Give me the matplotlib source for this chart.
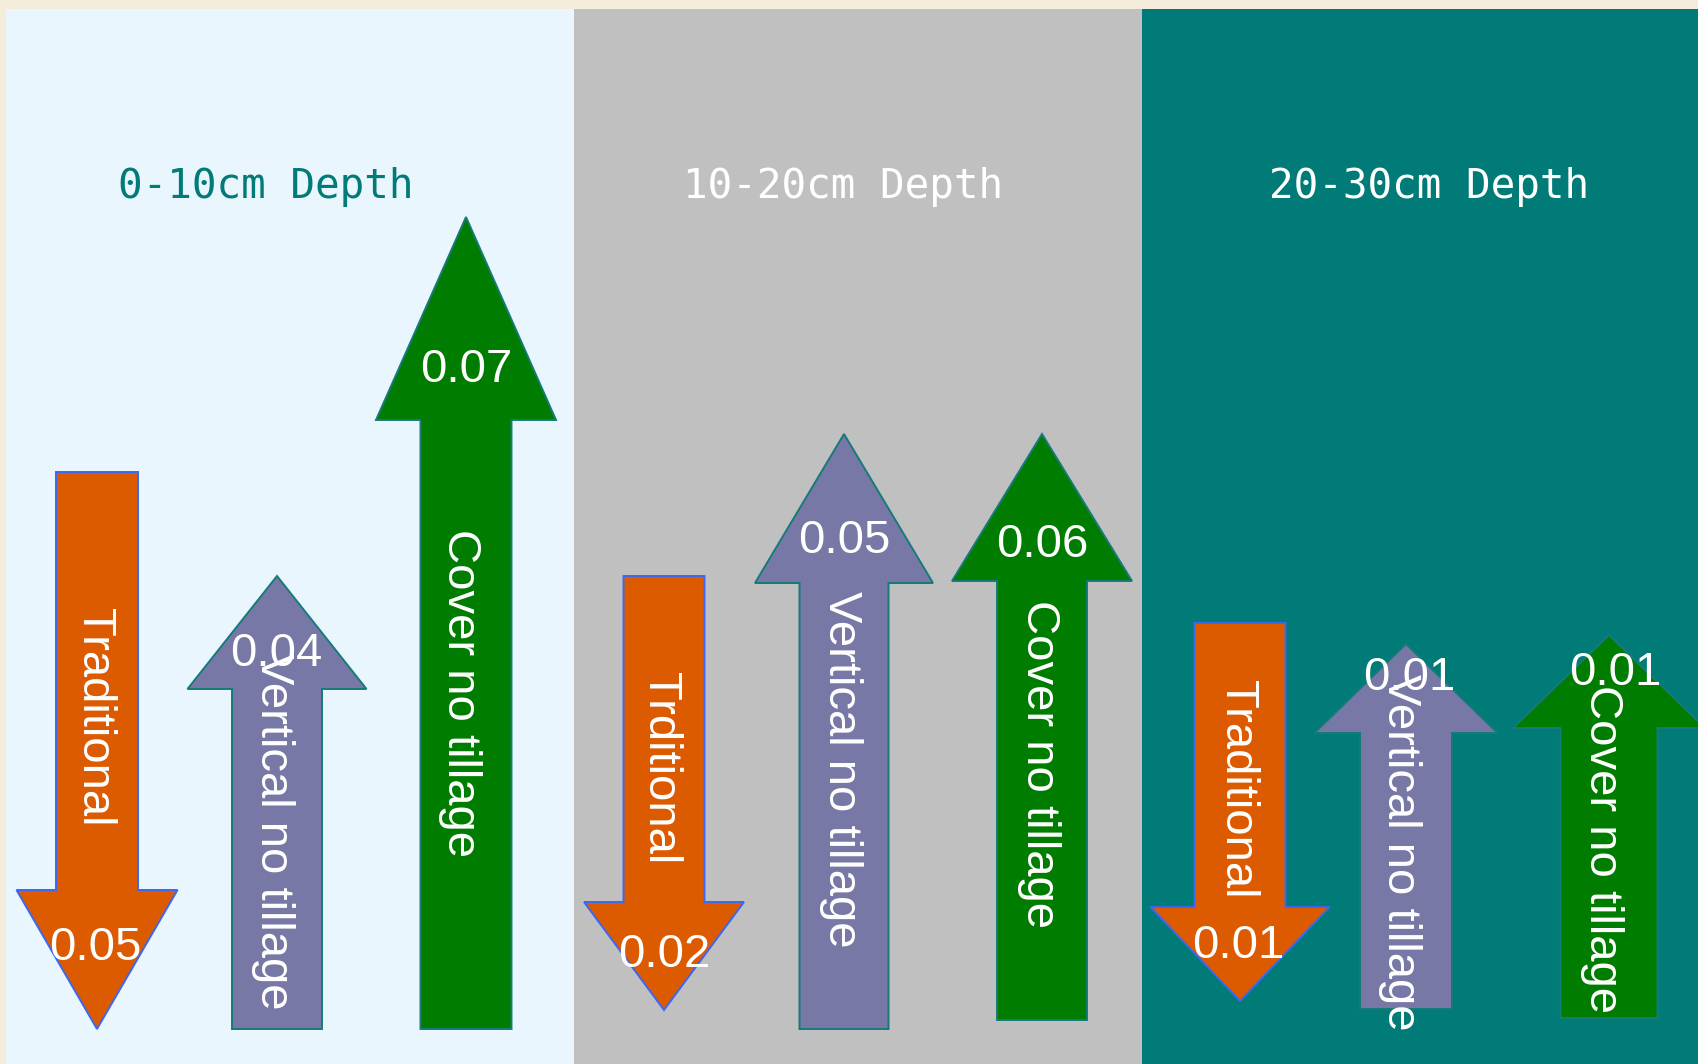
import matplotlib
matplotlib.use("Agg")
import matplotlib.pyplot as plt
from matplotlib.patches import Rectangle, FancyArrow
from matplotlib import font_manager

# ---------------- data ----------------
depths = ["0-10cm Depth", "10-20cm Depth", "20-30cm Depth"]
treatments = ["Traditional", "Vertical no tillage", "Cover no tillage"]
# labels as written on the arrows (note the original typo in panel 2)
arrow_labels = [
    ["Traditional", "Vertical no tillage", "Cover no tillage"],
    ["Trditional", "Vertical no tillage", "Cover no tillage"],
    ["Traditional", "Vertical no tillage", "Cover no tillage"],
]
values = [
    [0.05, 0.04, 0.07],
    [0.02, 0.05, 0.06],
    [0.01, 0.01, 0.01],
]
directions = ["down", "up", "up"]  # per treatment

# ---------------- layout (pixel space of the canvas) ----------------
W, H = 1698, 1064
panel_edges = [6.5, 574, 1142.5, 1698]
panel_top = 9
header_x = [266, 843, 1429]
header_y = 187

# per arrow: centre x, tail y, tip y, shaft width, head width, head length
arrow_cx = [[97, 277, 466], [664, 844, 1042], [1240, 1406, 1609]]
arrow_tail = [[472, 1029, 1029], [576, 1029, 1020], [623, 1009, 1018]]
arrow_tip = [[1029, 576, 217], [1010, 434, 434], [1001, 644, 635]]
shaft_w = [[82, 90, 91], [81, 89, 90], [91, 92, 97]]
head_w = [[161, 179, 180], [160, 178, 180], [179, 183, 192]]
head_len = [[139, 113, 203], [108, 149, 147], [94, 89, 93]]
# label positions
label_cy = [[717, 831, 693], [768, 769, 764], [789, 852, 849]]
label_cx = [[94, 273, 460], [660, 841, 1039], [1237, 1400, 1602]]
value_pos = [
    [(95, 948), (276, 654), (466, 370)],
    [(664, 955), (844, 541), (1042, 545)],
    [(1238, 946), (1409, 678), (1615, 673)],
]

# ---------------- styles ----------------
cream = "#f4eddc"
panel_colors = ["#e9f6fd", "#c0c0c0", "#017b78"]
header_colors = ["#017b78", "#ffffff", "#ffffff"]
fill_colors = ["#dc5a00", "#7878a6", "#007d00"]
edge_colors = ["#3b68f2", "#167a7a", "#167a7a"]

names = {f.name for f in font_manager.fontManager.ttflist}
if "Noto Sans Mono CJK SC" in names:
    header_family, header_size = "Noto Sans Mono CJK SC", 33
else:
    header_family, header_size = "DejaVu Sans Mono", 29.5
label_family = ["Liberation Sans", "Arial", "DejaVu Sans"]

fig = plt.figure(figsize=(W / 100, H / 100), dpi=100, facecolor=cream)
ax = fig.add_axes([0, 0, 1, 1])
ax.set_xlim(0, W)
ax.set_ylim(H, 0)
ax.axis("off")

for p in range(3):
    x0, x1 = panel_edges[p], panel_edges[p + 1]
    ax.add_patch(Rectangle((x0, panel_top), x1 - x0, H - panel_top + 5,
                           facecolor=panel_colors[p], edgecolor="none", zorder=1))
    ax.text(header_x[p], header_y, depths[p], color=header_colors[p],
            family=header_family, fontsize=header_size, ha="center",
            va="center", zorder=5)

for p in range(3):
    for t in range(3):
        cx = arrow_cx[p][t]
        y0 = arrow_tail[p][t]
        y1 = arrow_tip[p][t]
        arr = FancyArrow(cx, y0, 0, y1 - y0, width=shaft_w[p][t],
                         head_width=head_w[p][t], head_length=head_len[p][t],
                         length_includes_head=True,
                         facecolor=fill_colors[t], edgecolor=edge_colors[t],
                         linewidth=1.4, zorder=3)
        ax.add_patch(arr)
        ax.text(label_cx[p][t], label_cy[p][t], arrow_labels[p][t],
                rotation=-90, rotation_mode="anchor", ha="center", va="center",
                color="white", family=label_family, fontsize=34, zorder=4)
        vx, vy = value_pos[p][t]
        ax.text(vx, vy, f"{values[p][t]:.2f}", ha="center", va="center",
                color="white", family=label_family, fontsize=34, zorder=5)

fig.savefig("out.png", dpi=100, facecolor=cream)
